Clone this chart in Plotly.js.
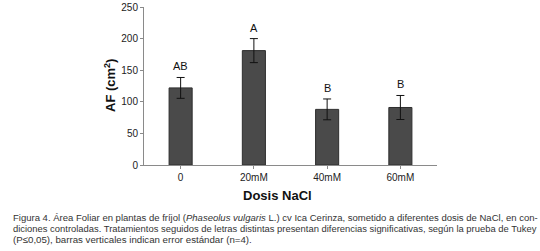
<!DOCTYPE html>
<html>
<head>
<meta charset="utf-8">
<script src="https://cdn.plot.ly/plotly-3.0.1.min.js"></script>
<style>
html,body{margin:0;padding:0;background:#fff;}
#chart{width:540px;height:251px;}
</style>
</head>
<body>
<div id="chart"></div>
<script>
// ---- data ----
const categories = ['0', '20mM', '40mM', '60mM'];
const means = [122, 181, 88, 91];
const errors = [16.5, 19, 16.5, 19];
const letters = ['AB', 'A', 'B', 'B'];
const xTitle = 'Dosis NaCl';
const yTitle = 'AF (cm<sup>2</sup>)';
const captionLines = [
  [['Figura 4. Área Foliar en plantas de fríjol (', 0], ['Phaseolus vulgaris', 1], [' L.) cv Ica Cerinza, sometido a diferentes dosis de NaCl, en con-', 0]],
  [['diciones controladas. Tratamientos seguidos de letras distintas presentan diferencias significativas, según la prueba de Tukey', 0]],
  [['(P≤0,05), barras verticales indican error estándar (n=4).', 0]]
];

// ---- layout helpers ----
const W = 540, H = 251;
const M = {l: 144, r: 103, t: 7, b: 86};
const PW = W - M.l - M.r, PH = H - M.t - M.b;
const px2x = px => (px - M.l) / PW;
const py2y = py => (H - M.b - py) / PH;

const capFamily = 'Liberation Sans';
const ctx = document.createElement('canvas').getContext('2d');
function measure(segs, size) {
  let w = 0;
  segs.forEach(([t, it]) => {
    ctx.font = (it ? 'italic ' : '') + size + 'px "' + capFamily + '"';
    w += ctx.measureText(t).width;
  });
  return w;
}
const capTargets = [524, 524, null];
// base size fitted from the natural (non-justified) last line
const baseSize = 9.6 * 239 / measure(captionLines[2], 9.6);
const capY = [217, 228.4, 239.8];

const annotations = [];
categories.forEach((c, i) => {
  annotations.push({
    x: c, y: means[i] + errors[i], xref: 'x', yref: 'y',
    text: letters[i], showarrow: false, yanchor: 'bottom', yshift: 3,
    font: {size: 11, color: '#111'}
  });
});
annotations.push({
  x: px2x(277), y: py2y(195), xref: 'paper', yref: 'paper',
  text: '<b>' + xTitle + '</b>', showarrow: false, xanchor: 'center', yanchor: 'middle',
  font: {size: 13, color: '#111'}
});
annotations.push({
  x: px2x(110), y: py2y(86), xref: 'paper', yref: 'paper',
  text: '<b>' + yTitle + '</b>', showarrow: false, textangle: -90,
  xanchor: 'center', yanchor: 'middle',
  font: {size: 13, color: '#111'}
});
captionLines.forEach((segs, i) => {
  let size = baseSize;
  if (capTargets[i]) size = baseSize * capTargets[i] / measure(segs, baseSize);
  const text = segs.map(([t, it]) => it ? '<i>' + t + '</i>' : t).join('');
  annotations.push({
    x: px2x(11), y: py2y(capY[i]), xref: 'paper', yref: 'paper',
    text: text, showarrow: false, xanchor: 'left', yanchor: 'middle',
    font: {size: size, family: capFamily, color: '#333'}
  });
});

const trace = {
  type: 'bar',
  x: categories,
  y: means,
  marker: {color: '#4a4a4a', line: {color: '#2e2e2e', width: 1}},
  error_y: {type: 'data', array: errors, visible: true, color: '#111', thickness: 1, width: 4},
  hoverinfo: 'none'
};

const layout = {
  width: W, height: H,
  margin: M,
  paper_bgcolor: '#fff', plot_bgcolor: '#fff',
  font: {family: 'Liberation Sans, Arial, sans-serif', size: 10, color: '#222'},
  showlegend: false,
  bargap: 0.685,
  xaxis: {
    type: 'category', showline: true, linecolor: '#8a8a8a', linewidth: 1,
    ticks: 'outside', ticklen: 3, tickcolor: '#8a8a8a', showgrid: false, zeroline: false,
    tickfont: {size: 10, color: '#222'}
  },
  yaxis: {
    range: [0, 250], dtick: 50, showline: true, linecolor: '#8a8a8a', linewidth: 1,
    ticks: 'outside', ticklen: 3, tickcolor: '#8a8a8a', showgrid: false, zeroline: false,
    tickfont: {size: 10, color: '#222'}
  },
  annotations: annotations
};

Plotly.newPlot('chart', [trace], layout, {displayModeBar: false, staticPlot: true});
</script>
</body>
</html>
